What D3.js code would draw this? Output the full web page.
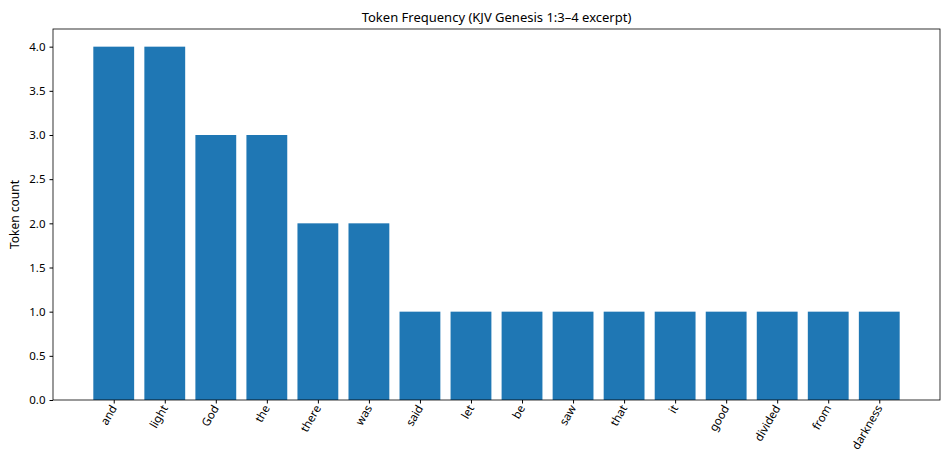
<!DOCTYPE html>
<html><head><meta charset="utf-8">
<script src="https://cdn.jsdelivr.net/npm/d3@7"></script>
<style>body{margin:0;background:#fff}text{font-family:"Noto Sans",sans-serif}</style>
</head><body><svg id="c" width="950" height="470"></svg>
<script>
const categories=["and","light","God","the","there","was","said","let","be","saw","that","it","good","divided","from","darkness"];
const counts=[4,4,3,3,2,2,1,1,1,1,1,1,1,1,1,1];
const yTicks=[0,0.5,1,1.5,2,2.5,3,3.5,4];
const L=53,R=940,T=29,B=400;
const svg=d3.select("#c");
const n=categories.length;
const x=d3.scaleLinear().domain([-0.4-0.79,n-1+0.4+0.79]).range([L,R]);
const y=d3.scaleLinear().domain([0,4.2]).range([B,T]);
svg.selectAll("rect.bar").data(counts).join("rect").attr("class","bar")
 .attr("x",(d,i)=>x(i-0.4)).attr("width",x(0.8)-x(0)).attr("y",d=>y(d)).attr("height",d=>B-y(d)).attr("fill","#1f77b4");
const ya=svg.append("g").attr("transform",`translate(${L},0)`).call(d3.axisLeft(y).tickValues(yTicks).tickFormat(d3.format(".1f")).tickSize(3.5).tickPadding(4));
const xa=svg.append("g").attr("transform",`translate(0,${B})`).call(d3.axisBottom(x).tickValues(d3.range(n)).tickFormat(i=>categories[i]).tickSize(3.5));
[ya,xa].forEach(a=>{a.select(".domain").remove();a.selectAll("text").attr("font-size",11.5).attr("fill","#000");a.selectAll("line").attr("stroke","#000");});
xa.selectAll("text").attr("text-anchor","end").attr("dy",null).attr("y",0)
 .attr("transform","translate(3,8) rotate(-60)");
svg.append("rect").attr("x",L).attr("y",T).attr("width",R-L).attr("height",B-T).attr("fill","none").attr("stroke","#000").attr("stroke-width",0.8);
svg.append("text").attr("x",(L+R)/2).attr("y",22).attr("text-anchor","middle").attr("font-size",13).text("Token Frequency (KJV Genesis 1:3–4 excerpt)");
svg.append("text").attr("transform",`translate(19,${(T+B)/2}) rotate(-90)`).attr("text-anchor","middle").attr("font-size",12).text("Token count");
</script></body></html>
